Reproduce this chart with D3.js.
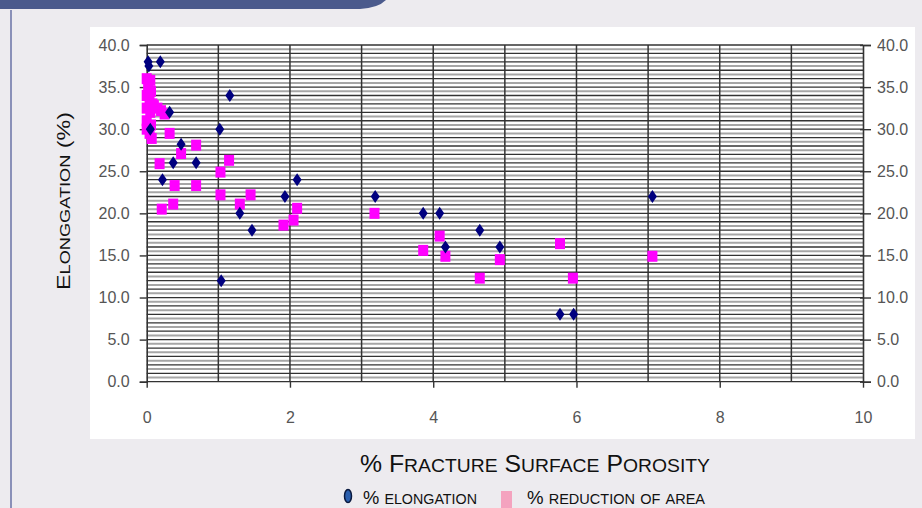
<!DOCTYPE html>
<html>
<head>
<meta charset="utf-8">
<script src="https://cdn.jsdelivr.net/npm/d3@7"></script>
<style>
  body { margin: 0; background: #edebef; }
  svg { display: block; }
</style>
</head>
<body>
<div id="canvas"></div>
<script>
// data: elongation (diamonds) and reduction of area (squares)
const elongX = [0.02, 0.19, 0.03, 0.32, 0.05, 0.48, 0.37, 0.69, 0.22, 1.16, 1.02, 1.93, 2.1, 1.3, 1.47, 1.04,
  3.19, 3.86, 4.09, 4.17, 4.65, 4.93, 5.77, 5.96, 7.06];
const elongY = [38, 38, 37.5, 32, 30, 28.2, 26, 26, 24, 34, 30, 22, 24, 20, 18, 12,
  22, 20, 20, 16, 18, 16, 8, 8, 22];

const redX = [0.0, 0.05, 0.02, 0.06, 0.0, 0.04, 0.08, 0.0, 0.1, 0.15, 0.2, 0.25, 0.05, 0.0, 0.06, 0.0, 0.04, 0.07,
  0.32, 0.18, 0.48, 0.69, 0.39, 0.69, 0.21, 0.37, 1.03, 1.15, 1.03, 1.3, 1.45, 1.91, 2.05, 2.1,
  3.18, 4.09, 3.86, 4.17, 4.65, 4.93, 5.77, 5.95, 7.06];
const redY = [36, 35.8, 35, 34.5, 34, 33.5, 33, 32.5, 32.8, 32.5, 32.2, 31.8, 32, 31, 30.5, 30, 29.5, 28.9,
  29.5, 25.9, 27.1, 28.1, 23.3, 23.3, 20.5, 21.1, 24.9, 26.3, 22.2, 21.1, 22.2, 18.6, 19.2, 20.6,
  20, 17.3, 15.6, 14.9, 12.3, 14.5, 16.4, 12.3, 14.9];

const xTicks = [0, 2, 4, 6, 8, 10];
const yTicks = [0, 5, 10, 15, 20, 25, 30, 35, 40];

const xTitle = '% Fracture Surface Porosity';
const yTitle = 'Elonggation (%)';
const legendLabels = ['% elongation', '% reduction of area'];

const W = 922, H = 508;
const svg = d3.select('#canvas').append('svg')
  .attr('width', W)
  .attr('height', H);

// small caps by hand: lower case letters become smaller capitals
function smallCaps(sel, str) {
  const parts = str.match(/[a-z]+|[^a-z]+/g);
  sel.selectAll('tspan')
    .data(parts)
    .enter().append('tspan')
    .style('font-size', d => /[a-z]/.test(d) ? '0.78em' : null)
    .text(d => d.toUpperCase());
}

// slide decoration
svg.append('path')
  .attr('d', 'M0,0 H386 Q378,8 360,9 H0 Z')
  .attr('fill', '#4b5a8c');
svg.append('line')
  .attr('x1', 11).attr('x2', 11).attr('y1', 10).attr('y2', H)
  .attr('stroke', '#8a90b8').attr('stroke-width', 2);

// white chart panel
svg.append('rect')
  .attr('x', 90).attr('y', 27).attr('width', 825).attr('height', 412)
  .attr('fill', '#ffffff');

const x = d3.scaleLinear().domain([0, 10]).range([146.7, 863]);
const y = d3.scaleLinear().domain([0, 40]).range([381.7, 45]);

// gridlines
const g = svg.append('g');
g.selectAll('.hminor')
  .data(d3.range(0.5, 40, 1))
  .enter().append('line')
  .attr('x1', x(0)).attr('x2', x(10))
  .attr('y1', d => y(d)).attr('y2', d => y(d))
  .attr('stroke', '#a6a6a6').attr('stroke-width', 2);
g.selectAll('.hmajor')
  .data(d3.range(0, 41, 1))
  .enter().append('line')
  .attr('x1', x(0)).attr('x2', x(10))
  .attr('y1', d => y(d)).attr('y2', d => y(d))
  .attr('stroke', '#333').attr('stroke-width', 1.3);
g.selectAll('.vgrid')
  .data(d3.range(1, 10, 1))
  .enter().append('line')
  .attr('x1', d => x(d)).attr('x2', d => x(d))
  .attr('y1', y(40)).attr('y2', y(0))
  .attr('stroke', '#333').attr('stroke-width', 1.5);

// axes
const tickFont = 'Liberation Sans, Arial, sans-serif';
const axisLeft = svg.append('g')
  .attr('transform', `translate(${x(0)},0)`)
  .call(d3.axisLeft(y).tickValues(yTicks).tickFormat(d3.format('.1f')).tickSize(7).tickPadding(10));
const axisRight = svg.append('g')
  .attr('transform', `translate(${x(10)},0)`)
  .call(d3.axisRight(y).tickValues(yTicks).tickFormat(d3.format('.1f')).tickSize(8).tickPadding(6));
const axisBottom = svg.append('g')
  .attr('transform', `translate(0,${y(0)})`)
  .call(d3.axisBottom(x).tickValues(xTicks).tickFormat(d3.format('d')).tickSize(6).tickPadding(24));

[axisLeft, axisRight, axisBottom].forEach(a => {
  a.select('.domain').attr('stroke', '#333').attr('stroke-width', 1.6);
  a.selectAll('.tick line').attr('stroke', '#333').attr('stroke-width', 1.4);
  a.selectAll('.tick text')
    .attr('fill', '#555')
    .style('font-family', tickFont)
    .style('font-size', '16px');
});
axisBottom.select('.domain').remove();
axisRight.selectAll('.tick line').attr('x1', -3);

// reduction of area squares
svg.selectAll('.red')
  .data(redX)
  .enter().append('rect')
  .attr('class', 'red')
  .attr('x', (d, i) => x(d) - 5)
  .attr('y', (d, i) => y(redY[i]) - 5.5)
  .attr('width', 10).attr('height', 11)
  .attr('fill', '#ff00ff');

// elongation diamonds
svg.selectAll('.elong')
  .data(elongX)
  .enter().append('path')
  .attr('class', 'elong')
  .attr('d', (d, i) => {
    const cx = x(d), cy = y(elongY[i]);
    return `M${cx},${cy - 6.5} L${cx + 4.5},${cy} L${cx},${cy + 6.5} L${cx - 4.5},${cy} Z`;
  })
  .attr('fill', '#00007f');

// axis titles
svg.append('text')
  .attr('x', 360).attr('y', 472)
  .attr('textLength', 350).attr('lengthAdjust', 'spacingAndGlyphs')
  .style('font-family', tickFont)
  .style('font-size', '23px')
  .attr('fill', '#111')
  .call(smallCaps, xTitle);

svg.append('text')
  .attr('transform', 'translate(70,290) rotate(-90)')
  .attr('textLength', 178).attr('lengthAdjust', 'spacingAndGlyphs')
  .style('font-family', tickFont)
  .style('font-size', '18px')
  .attr('fill', '#111')
  .call(smallCaps, yTitle);

// legend
svg.append('ellipse')
  .attr('cx', 348).attr('cy', 496).attr('rx', 3.5).attr('ry', 6.5)
  .attr('fill', '#2b5fae').attr('stroke', '#0a1a40').attr('stroke-width', 1.5);
svg.append('rect')
  .attr('x', 501).attr('y', 491).attr('width', 11).attr('height', 17)
  .attr('fill', '#f4a3bf');
svg.selectAll('.leg')
  .data(legendLabels)
  .enter().append('text')
  .attr('x', (d, i) => i === 0 ? 363 : 527)
  .attr('y', 504)
  .attr('textLength', (d, i) => i === 0 ? 114 : 178)
  .attr('lengthAdjust', 'spacingAndGlyphs')
  .style('font-family', tickFont)
  .style('font-size', '19px')
  .attr('fill', '#111')
  .each(function(d) { d3.select(this).call(smallCaps, d); });
</script>
</body>
</html>
